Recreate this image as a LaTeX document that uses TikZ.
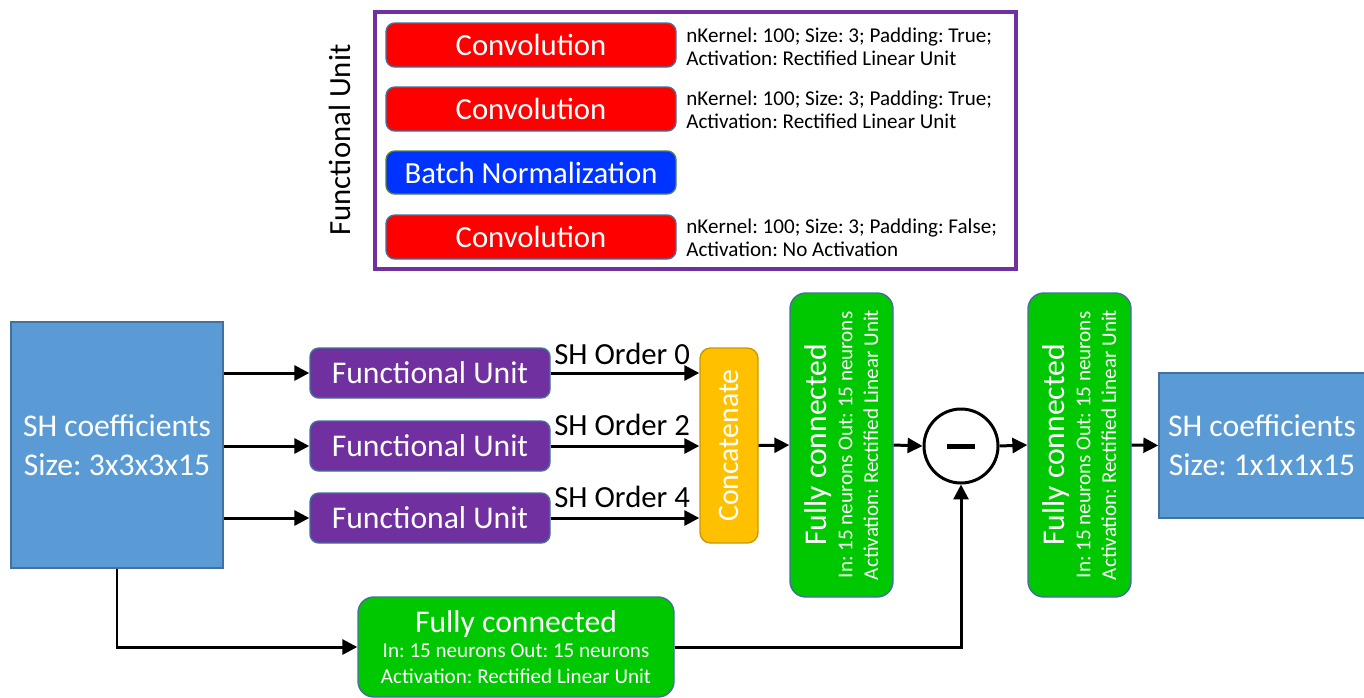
\documentclass[tikz,border=0pt]{standalone}
\usepackage{fontspec}
\setmainfont{Carlito}
\usetikzlibrary{arrows.meta}
\definecolor{shblue}{HTML}{5B9BD5}
\definecolor{edgeblue}{HTML}{41719C}
\definecolor{fupurple}{HTML}{7030A0}
\definecolor{convred}{HTML}{FF0000}
\definecolor{bnblue}{HTML}{0033FF}
\definecolor{bnedge}{HTML}{548235}
\definecolor{catorange}{HTML}{FFC000}
\definecolor{catedge}{HTML}{C99A00}
\definecolor{fcgreen}{HTML}{00C800}
\tikzset{
  box/.style={draw=edgeblue, line width=0.8pt, text=white, inner sep=0pt, align=center},
  shbox/.style={box, fill=shblue, font=\fontsize{18}{22}\selectfont},
  fubox/.style={box, fill=fupurple, rounded corners=5pt, minimum width=240*0.02cm, minimum height=50*0.02cm, font=\fontsize{18}{20}\selectfont},
  convbox/.style={box, fill=convred, rounded corners=5pt, minimum width=290*0.02cm, minimum height=44*0.02cm, font=\fontsize{17.5}{20}\selectfont},
  bnbox/.style={box, draw=bnedge, fill=bnblue, rounded corners=5pt, minimum width=290*0.02cm, minimum height=43*0.02cm, font=\fontsize{17.5}{20}\selectfont},
  catbox/.style={box, draw=catedge, fill=catorange, rounded corners=6pt, minimum width=195*0.02cm, minimum height=58*0.02cm, rotate=90, font=\fontsize{17}{20}\selectfont},
  fcvbox/.style={box, fill=fcgreen, rounded corners=9pt, minimum width=304*0.02cm, minimum height=103*0.02cm, rotate=90, font=\fontsize{12}{14.7}\selectfont},
  fchbox/.style={box, fill=fcgreen, rounded corners=9pt, minimum width=316*0.02cm, minimum height=100*0.02cm, font=\fontsize{12}{14.7}\selectfont},
  ann/.style={align=left, anchor=west, inner sep=0pt, font=\fontsize{12}{13.3}\selectfont},
  ord/.style={anchor=base west, inner sep=0pt, font=\fontsize{17.5}{20}\selectfont},
  arr/.style={line width=1.7pt, -{Triangle[length=8.5pt,width=8.5pt]}}
}
\newcommand{\fctext}{{\fontsize{18}{20}\selectfont Fully connected}\\In: 15 neurons Out: 15 neurons\\Activation: Rectified Linear Unit}
\begin{document}
\frenchspacing
\begin{tikzpicture}[x=0.02cm, y=-0.02cm]
\useasboundingbox (0,0) rectangle (1364,697);
% Functional unit detail
\node[draw=fupurple, line width=2.3pt, minimum width=641*0.02cm, minimum height=257*0.02cm, inner sep=0pt] (frame) at (695.5,140.5) {};
\node[rotate=90, inner sep=0pt, font=\fontsize{17.5}{20}\selectfont] (fulabel) at (340,140) {Functional Unit};
\node[convbox] (conv1) at (531,45) {Convolution};
\node[convbox] (conv2) at (531,109) {Convolution};
\node[bnbox] (bn) at (531,172.5) {Batch Normalization};
\node[convbox] (conv3) at (531,237) {Convolution};
\node[ann] (ann1) at (686,46.5) {nKernel: 100; Size: 3; Padding: True;\\Activation: Rectified Linear Unit};
\node[ann] (ann2) at (686,109.5) {nKernel: 100; Size: 3; Padding: True;\\Activation: Rectified Linear Unit};
\node[ann] (ann3) at (686,238) {nKernel: 100; Size: 3; Padding: False;\\Activation: No Activation};
% main network
\node[shbox, minimum width=212*0.02cm, minimum height=246*0.02cm] (shin) at (117,445) {SH coefficients\\Size: 3x3x3x15};
\node[fubox] (fu1) at (430,373) {Functional Unit};
\node[fubox] (fu2) at (430,446) {Functional Unit};
\node[fubox] (fu3) at (430,518) {Functional Unit};
\node[catbox] (concat) at (729,445.5) {Concatenate};
\node[fcvbox] (fc1) at (841.5,445) {\fctext};
\node[draw, circle, line width=1.7pt, minimum size=74*0.02cm, inner sep=0pt] (minus) at (961,446) {};
\fill (minus.center) ++(-14,-2.5) rectangle ++(28,5);
\node[fcvbox] (fc2) at (1079.5,445) {\fctext};
\node[shbox, minimum width=206*0.02cm, minimum height=145*0.02cm] (shout) at (1262,445.5) {SH coefficients\\Size: 1x1x1x15};
\node[fchbox] (fcb) at (516,647) {\fctext};
% connectors
\draw[arr] (shin.east |- fu1.west) -- (fu1.west);
\draw[arr] (shin.east |- fu2.west) -- (fu2.west);
\draw[arr] (shin.east |- fu3.west) -- (fu3.west);
\draw[arr] (fu1.east) -- (concat.north |- fu1.east);
\draw[arr] (fu2.east) -- (concat.north |- fu2.east);
\draw[arr] (fu3.east) -- (concat.north |- fu3.east);
\node[ord] (o0) at (554,364) {SH Order 0};
\node[ord] (o2) at (554,435) {SH Order 2};
\node[ord] (o4) at (554,507) {SH Order 4};
\draw[arr] (concat.south) -- (fc1.north);
\draw[arr] (fc1.south) -- (minus.west);
\draw[arr] (minus.east) -- (fc2.north);
\draw[arr] (fc2.south) -- (shout.west);
\draw[arr] (shin.south) |- (fcb.west);
\draw[arr] (fcb.east) -| (minus.south);
\end{tikzpicture}
\end{document}
